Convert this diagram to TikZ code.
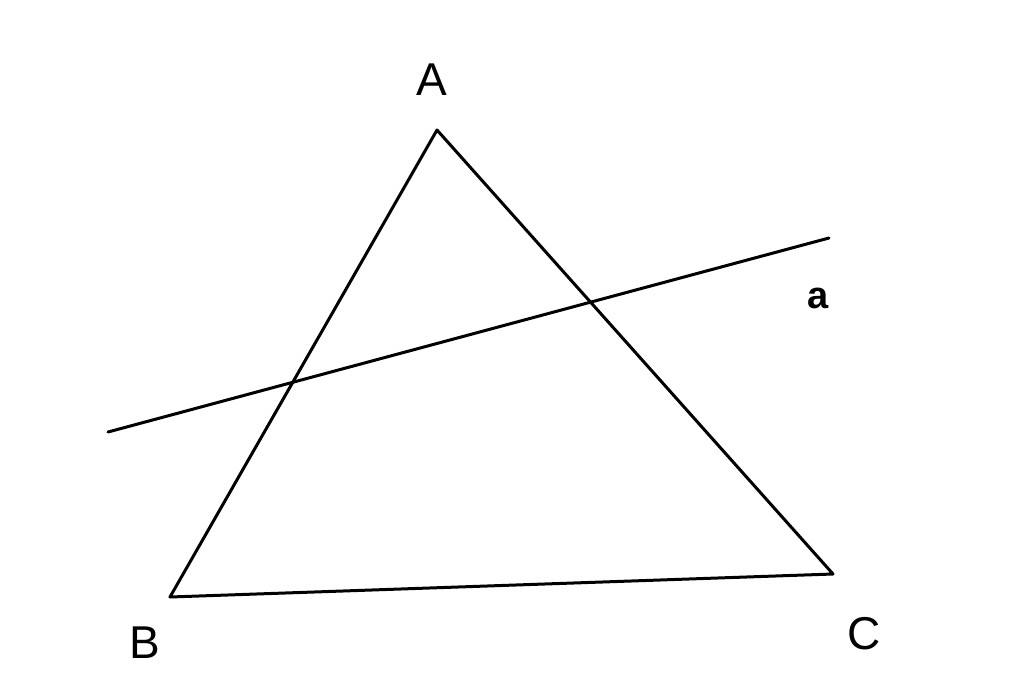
\documentclass[tikz,border=0pt]{standalone}
\usepackage{fontspec}
\setmainfont{Liberation Sans}
\begin{document}
\begin{tikzpicture}[x=1pt,y=-1pt,
  edge/.style={line width=3pt,line cap=round,line join=round},
  lbl/.style={font=\fontsize{46}{46}\selectfont,inner sep=0pt},
  slbl/.style={font=\bfseries\fontsize{38}{38}\selectfont,inner sep=0pt}]
\useasboundingbox (0,0) rectangle (1024,695);
\coordinate (A) at (437,130);
\coordinate (B) at (170,597);
\coordinate (C) at (833,574);
\coordinate (a1) at (108,432);
\coordinate (a2) at (829,238);
\draw[edge] (A) -- (B) -- (C) -- cycle;
\draw[edge] (a1) -- (a2);
\node[lbl] (lA) at (432,80) {A};
\node[lbl] (lB) at (145,643) {B};
\node[lbl] (lC) at (864,634) {C};
\node[slbl] (la) at (818,298) {a};
\end{tikzpicture}
\end{document}
